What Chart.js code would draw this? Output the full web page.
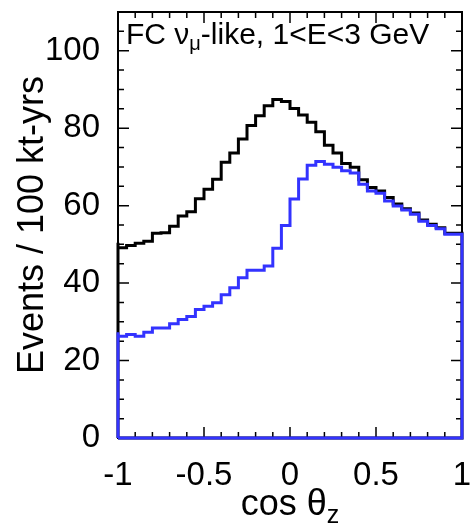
<!DOCTYPE html>
<html>
<head>
<meta charset="utf-8">
<script src="https://cdn.jsdelivr.net/npm/chart.js"></script>
<style>
  html, body { margin: 0; padding: 0; background: #fff; }
</style>
</head>
<body>
<canvas id="cosChart" width="471" height="525"></canvas>
<script>
// binning in cos(theta_z)
const binLow = -1;
const binWidth = 0.05;

// FC all events (black)
const allEvents = [
  50.4, 49.1, 49.7, 50.3, 50.8, 52.9, 53.0, 54.7, 57.3, 58.4,
  61.8, 64.2, 66.8, 71.2, 73.6, 77.2, 80.7, 83.2, 85.8, 87.4,
  86.9, 85.1, 83.4, 81.5, 79.1, 75.6, 73.6, 70.9, 69.9, 66.7,
  64.7, 63.8, 62.1, 60.4, 59.2, 58.1, 56.3, 55.2, 54.3, 52.9
];
// numu CC (blue)
const numuEvents = [
  27.3, 26.3, 26.7, 26.3, 27.3, 28.4, 28.4, 29.5, 30.6, 31.4,
  33.2, 34.0, 34.9, 37.0, 38.8, 41.4, 43.3, 43.3, 44.4, 49.0,
  54.9, 61.7, 66.9, 70.4, 71.4, 70.7, 69.9, 69.0, 68.4, 65.5,
  63.8, 63.2, 61.2, 59.9, 58.9, 57.8, 56.0, 54.9, 54.0, 52.6
];

const yMax = 110;
const yStep = 20;
const yMinorStep = 5;
const xStep = 0.5;
const xMinorStep = 0.1;

const FONT = "'Liberation Sans', Arial, Helvetica, sans-serif";

// outline of a histogram, closed along the bottom
function histPoints(vals) {
  const pts = [{ x: binLow, y: 0 }];
  vals.forEach((v, i) => pts.push({ x: binLow + i * binWidth, y: v }));
  const hi = binLow + vals.length * binWidth;
  pts.push({ x: hi, y: vals[vals.length - 1] });
  pts.push({ x: hi, y: 0 });
  pts.push({ x: binLow, y: 0 });
  return pts;
}

function noPad(s) {
  s.paddingTop = 0; s.paddingBottom = 0;
  s.paddingLeft = 0; s.paddingRight = 0;
}

// frame + inward ticks on all four sides, like ROOT
const framePlugin = {
  id: 'frame',
  beforeDatasetsDraw(chart) {
    const { ctx, chartArea: a, scales } = chart;
    ctx.save();
    ctx.strokeStyle = '#000';
    ctx.lineWidth = 2;
    ctx.strokeRect(a.left, a.top, a.right - a.left, a.bottom - a.top);
    ctx.lineWidth = 1.5;
    ctx.beginPath();
    for (let v = 0; v <= yMax + 1e-6; v += yMinorStep) {
      const y = scales.y.getPixelForValue(v);
      const len = (Math.abs(v % yStep) < 1e-6) ? 11 : 6;
      ctx.moveTo(a.left, y); ctx.lineTo(a.left + len, y);
      ctx.moveTo(a.right, y); ctx.lineTo(a.right - len, y);
    }
    for (let i = 0; i <= 20; i++) {
      const v = -1 + i * xMinorStep;
      const x = scales.x.getPixelForValue(v);
      const len = (i % 5 === 0) ? 11 : 6;
      ctx.moveTo(x, a.bottom); ctx.lineTo(x, a.bottom - len);
      ctx.moveTo(x, a.top); ctx.lineTo(x, a.top + len);
    }
    ctx.stroke();
    ctx.restore();
  },
  afterDraw(chart) {
    const { ctx, chartArea: a } = chart;
    ctx.save();
    ctx.fillStyle = '#000';
    ctx.textBaseline = 'alphabetic';

    // label inside the frame
    let x = 126;
    const base = 44;
    ctx.font = `30px ${FONT}`;
    ctx.textAlign = 'left';
    ctx.fillText('FC \u03bd', x, base);
    x += ctx.measureText('FC \u03bd').width;
    ctx.font = `20px ${FONT}`;
    ctx.fillText('\u03bc', x, base + 6);
    x += ctx.measureText('\u03bc').width;
    ctx.font = `30px ${FONT}`;
    ctx.fillText('-like, 1<E<3 GeV', x, base);

    // x title
    ctx.font = `36px ${FONT}`;
    const main = 'cos \u03b8';
    const wMain = ctx.measureText(main).width;
    ctx.font = `25px ${FONT}`;
    const wSub = ctx.measureText('z').width;
    const cx = (a.left + a.right) / 2;
    let tx = cx - (wMain + wSub) / 2;
    ctx.font = `36px ${FONT}`;
    ctx.fillText(main, tx, 515);
    ctx.font = `25px ${FONT}`;
    ctx.fillText('z', tx + wMain, 523);

    // y title
    ctx.translate(43, 225);
    ctx.rotate(-Math.PI / 2);
    ctx.font = `36px ${FONT}`;
    ctx.textAlign = 'center';
    ctx.fillText('Events / 100 kt-yrs', 0, 0);
    ctx.restore();
  }
};

const ctx = document.getElementById('cosChart').getContext('2d');
const cosChart = new Chart(ctx, {
  type: 'scatter',
  data: {
    datasets: [
      {
        label: 'numu',
        data: histPoints(numuEvents),
        showLine: true,
        stepped: 'after',
        borderColor: '#3333ff',
        borderWidth: 3,
        pointRadius: 0,
        borderJoinStyle: 'miter',
        clip: 6
      },
      {
        label: 'all',
        data: histPoints(allEvents),
        showLine: true,
        stepped: 'after',
        borderColor: '#000',
        borderWidth: 3,
        pointRadius: 0,
        borderJoinStyle: 'miter',
        clip: 6
      }
    ]
  },
  options: {
    responsive: false,
    animation: false,
    devicePixelRatio: 1,
    layout: { padding: { top: 12, right: 9, left: 0, bottom: 0 } },
    plugins: { legend: { display: false }, tooltip: { enabled: false } },
    scales: {
      x: {
        type: 'linear',
        min: -1,
        max: 1,
        grid: { display: false },
        border: { display: false },
        ticks: {
          stepSize: xStep,
          color: '#000',
          font: { size: 33, family: FONT },
          padding: 10,
          maxRotation: 0,
          autoSkip: false,
          callback: v => String(v)
        },
        afterFit(s) { s.height = 87; noPad(s); }
      },
      y: {
        min: 0,
        max: yMax,
        grid: { display: false },
        border: { display: false },
        ticks: {
          stepSize: yStep,
          includeBounds: false,
          color: '#000',
          font: { size: 33, family: FONT },
          padding: 10,
          callback: v => String(v)
        },
        afterFit(s) { s.width = 118; noPad(s); }
      }
    }
  },
  plugins: [framePlugin]
});
</script>
</body>
</html>
